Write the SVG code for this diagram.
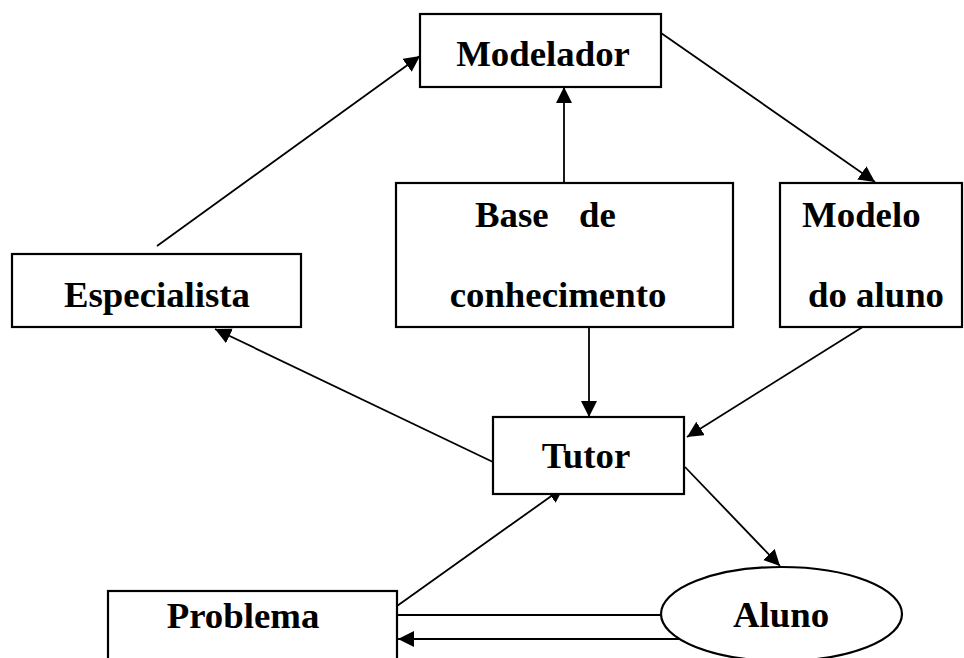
<svg xmlns="http://www.w3.org/2000/svg" width="964" height="658" viewBox="0 0 964 658">
<style>
  .box { fill: #fff; stroke: #000; stroke-width: 2.2; }
  .lbl { font-family: "Liberation Serif", "Times New Roman", serif; font-weight: bold; font-size: 36.8px; fill: #000; }
  .c { text-anchor: middle; }
  .edge { stroke: #000; stroke-width: 1.8; fill: none; }
  .arr { marker-end: url(#ah); }
</style>
<defs>
  <marker id="ah" markerUnits="userSpaceOnUse" markerWidth="18" markerHeight="18" refX="16" refY="8" orient="auto">
    <path d="M0,0 L16,8 L0,16 z" fill="#000"/>
  </marker>
</defs>
<rect width="964" height="658" fill="#fff"/>
<g id="connectors">
  <line class="edge arr" x1="157" y1="246" x2="420" y2="56"/>
  <line class="edge arr" x1="564" y1="183" x2="564" y2="87"/>
  <line class="edge arr" x1="661" y1="33" x2="875" y2="182"/>
  <line class="edge arr" x1="589" y1="327" x2="589" y2="417"/>
  <line class="edge arr" x1="877" y1="318" x2="687" y2="437"/>
  <line class="edge arr" x1="493" y1="462" x2="215" y2="329"/>
  <line class="edge arr" x1="685" y1="467" x2="780" y2="566"/>
  <line class="edge arr" x1="397" y1="606" x2="564" y2="487"/>
  <line class="edge" x1="397" y1="615" x2="661" y2="615"/>
  <line class="edge arr" x1="685" y1="639" x2="398" y2="639"/>
</g>
<g id="modelador">
  <rect class="box" x="420" y="14" width="241" height="73"/>
  <text class="lbl c" x="543" y="66">Modelador</text>
</g>
<g id="especialista">
  <rect class="box" x="12" y="254" width="289" height="73"/>
  <text class="lbl c" x="157" y="307">Especialista</text>
</g>
<g id="base">
  <rect class="box" x="396" y="183" width="337" height="144"/>
  <text class="lbl" x="475" y="227">Base</text>
  <text class="lbl" x="579" y="227">de</text>
  <text class="lbl c" x="558" y="307">conhecimento</text>
</g>
<g id="modelo">
  <rect class="box" x="780" y="183" width="182" height="144"/>
  <text class="lbl" x="802" y="227">Modelo</text>
  <text class="lbl" x="808" y="307">do aluno</text>
</g>
<g id="tutor">
  <rect class="box" x="493" y="417" width="191" height="77"/>
  <text class="lbl c" x="586" y="468">Tutor</text>
</g>
<g id="problema">
  <rect class="box" x="108" y="591" width="289" height="80"/>
  <text class="lbl c" x="243" y="628">Problema</text>
</g>
<g id="aluno">
  <ellipse class="box" cx="781.5" cy="614" rx="120.5" ry="47"/>
  <text class="lbl c" x="781" y="627">Aluno</text>
</g>
</svg>
